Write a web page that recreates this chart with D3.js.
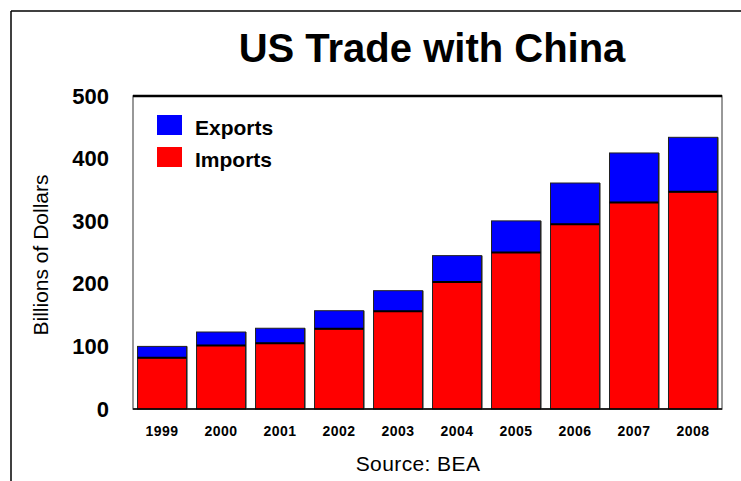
<!DOCTYPE html>
<html><head>
<meta charset="utf-8">
<title>US Trade with China</title>
<script src="https://d3js.org/d3.v7.min.js"></script>
<style>
  body { margin: 0; background: #fff; }
  text { font-family: Arial, "Liberation Sans", sans-serif; }
  .yaxis .domain, .yaxis line { display: none; }
</style>
</head>
<body>
<svg id="chart" width="741" height="481"></svg>
<script>

// values (billions of dollars)
const years = ["1999", "2000", "2001", "2002", "2003", "2004", "2005", "2006", "2007", "2008"];
const imports = [82, 101.5, 105, 128, 156, 203, 250, 295, 330, 347];
const exports = [18, 21.5, 24, 29, 33, 42, 50.5, 66, 79, 87];
const yTicks = [0, 100, 200, 300, 400, 500];

const svg = d3.select("svg#chart");
const plot = {"left": 133, "right": 722, "top": 96, "bottom": 409};

// frame around the picture (only top + left show)
svg.append("line").attr("x1", 11).attr("x2", 741).attr("y1", 11).attr("y2", 11)
  .attr("stroke", "#000").attr("stroke-width", 1.5);
svg.append("line").attr("x1", 11).attr("x2", 11).attr("y1", 11).attr("y2", 481)
  .attr("stroke", "#000").attr("stroke-width", 1.5);

// title
svg.append("text")
  .attr("x", 432).attr("y", 62)
  .attr("text-anchor", "middle")
  .style("font-size", "40px").style("font-weight", "bold")
  .text("US Trade with China");

const xScale = d3.scaleBand().domain(years)
  .range([plot.left, plot.right])
  .paddingInner(0.17).paddingOuter(0.077);

const yScale = d3.scaleLinear().domain([0, 500])
  .range([plot.bottom, plot.top]);

// plot box
svg.append("rect")
  .attr("x", plot.left).attr("y", plot.top)
  .attr("width", plot.right - plot.left).attr("height", plot.bottom - plot.top)
  .attr("fill", "#fff").attr("stroke", "#777").attr("stroke-width", 1.5);
svg.append("line").attr("x1", plot.left).attr("x2", plot.right)
  .attr("y1", plot.top).attr("y2", plot.top)
  .attr("stroke", "#000").attr("stroke-width", 2.5);

// bars
let bars = svg.append("g");
years.forEach((yr, i) => {
  const x = xScale(yr);
  const w = xScale.bandwidth();
  const top = imports[i] + exports[i];

  // little grey shadow on the right
  bars.append("rect")
    .attr("x", x + w).attr("y", yScale(top))
    .attr("width", 1.5).attr("height", yScale(0) - yScale(top))
    .attr("fill", "#888");

  bars.append("rect")
    .attr("x", x).attr("y", yScale(imports[i]))
    .attr("width", w).attr("height", yScale(0) - yScale(imports[i]))
    .attr("fill", "#ff0000").attr("stroke", "#222").attr("stroke-width", 1);

  bars.append("rect")
    .attr("x", x).attr("y", yScale(top))
    .attr("width", w).attr("height", yScale(imports[i]) - yScale(top))
    .attr("fill", "#0000ff").attr("stroke", "#222").attr("stroke-width", 1);

  bars.append("line")
    .attr("x1", x).attr("x2", x + w)
    .attr("y1", yScale(imports[i])).attr("y2", yScale(imports[i]))
    .attr("stroke", "#000").attr("stroke-width", 2);
});

// axis line over bar bottoms
svg.append("line").attr("x1", plot.left).attr("x2", plot.right)
  .attr("y1", plot.bottom).attr("y2", plot.bottom)
  .attr("stroke", "#000").attr("stroke-width", 1.5);

// y axis labels
svg.append("g")
  .attr("class", "yaxis")
  .attr("transform", "translate(" + (plot.left - 9) + ",0)")
  .call(d3.axisLeft(yScale).tickValues(yTicks).tickSize(0).tickPadding(15))
  .selectAll("text")
  .style("font-size", "22px").style("font-weight", "bold")
  .style("font-family", "Arial, 'Liberation Sans', sans-serif")
  .attr("fill", "#000");

// x labels
svg.append("g").selectAll("text")
  .data(years).join("text")
  .attr("x", d => xScale(d) + xScale.bandwidth() / 2)
  .attr("y", 436)
  .attr("text-anchor", "middle")
  .style("font-size", "14px").style("font-weight", "bold")
  .style("letter-spacing", "0.5px")
  .text(d => d);

// axis title
svg.append("text")
  .attr("transform", "translate(48,255) rotate(-90)")
  .attr("text-anchor", "middle")
  .style("font-size", "21px")
  .text("Billions of Dollars");

// source note
svg.append("text")
  .attr("x", 418).attr("y", 471)
  .attr("text-anchor", "middle")
  .style("font-size", "21px")
  .style("letter-spacing", "0.4px")
  .text("Source: BEA");

// legend
const legend = [["Exports", "#0000ff"], ["Imports", "#ff0000"]];
legend.forEach((d, i) => {
  svg.append("rect")
    .attr("x", 157).attr("y", 115 + i * 32)
    .attr("width", 25).attr("height", 20)
    .attr("fill", d[1]);
  svg.append("text")
    .attr("x", 195).attr("y", 135 + i * 32)
    .style("font-size", "21px").style("font-weight", "bold")
    .text(d[0]);
});

</script>
</body>
</html>
